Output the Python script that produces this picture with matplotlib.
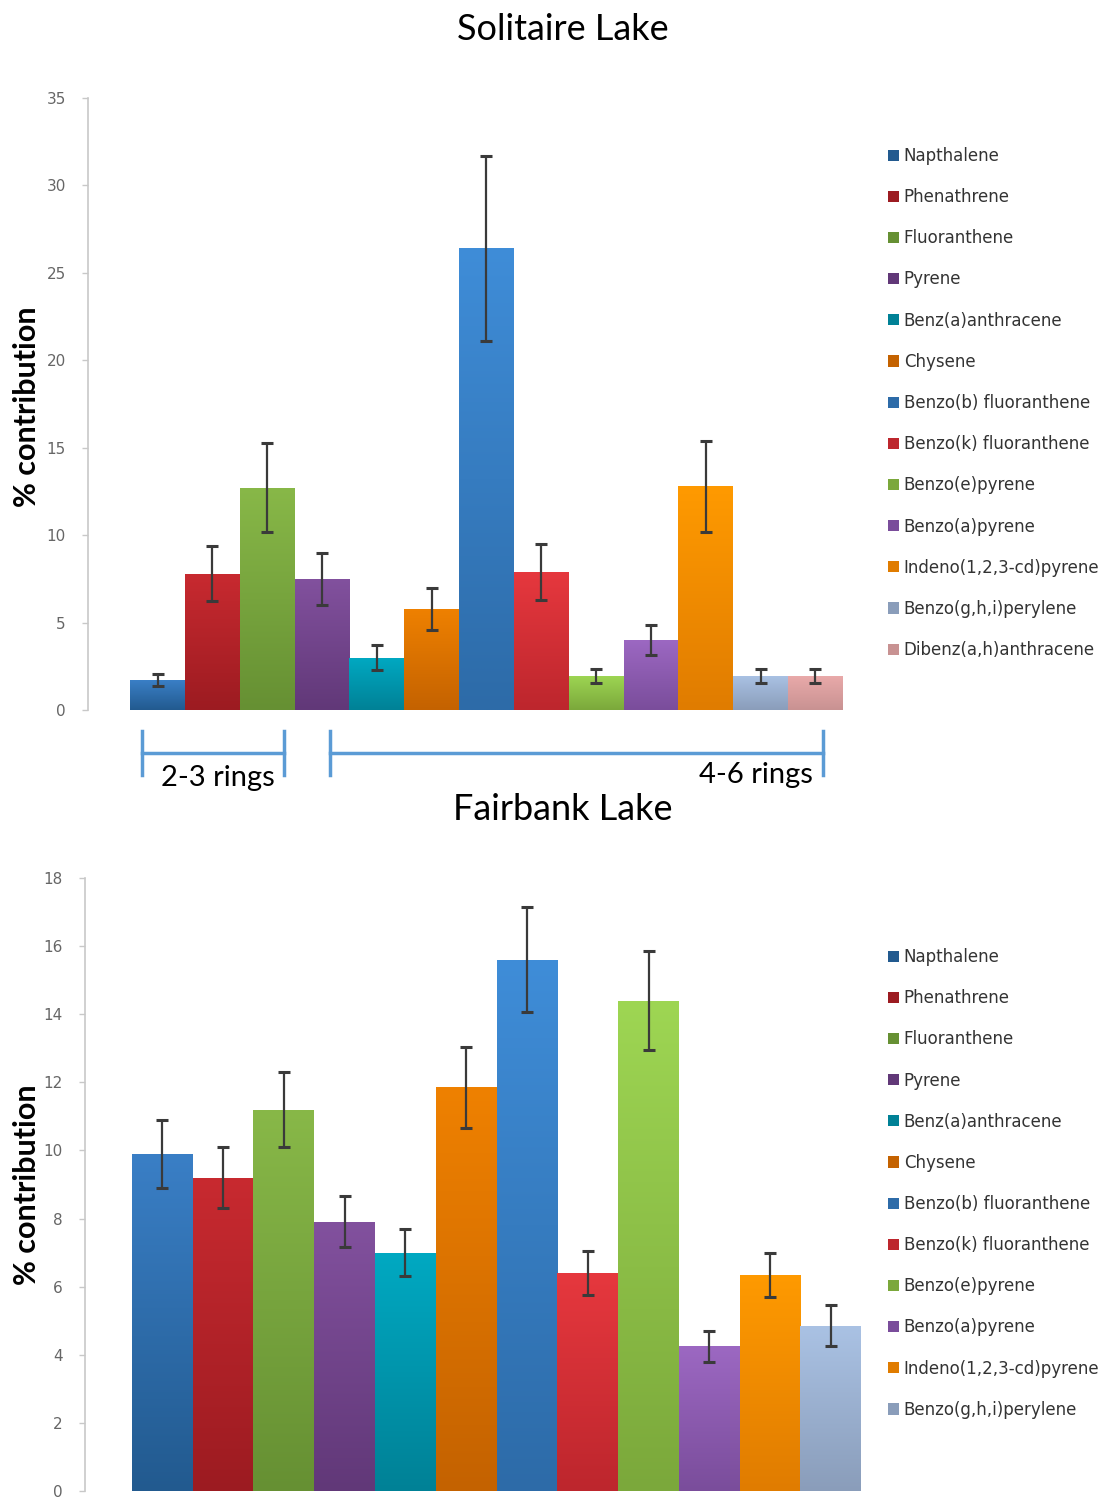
import numpy as np
import matplotlib
matplotlib.use("Agg")
import matplotlib.pyplot as plt
from matplotlib.colors import LinearSegmentedColormap
from matplotlib.lines import Line2D

# --- datos ---
compuestos = ["Napthalene", "Phenathrene", "Fluoranthene", "Pyrene",
              "Benz(a)anthracene", "Chysene", "Benzo(b) fluoranthene",
              "Benzo(k) fluoranthene", "Benzo(e)pyrene", "Benzo(a)pyrene",
              "Indeno(1,2,3-cd)pyrene", "Benzo(g,h,i)perylene",
              "Dibenz(a,h)anthracene"]

solitaire_media = [1.7, 7.8, 12.7, 7.5, 3.0, 5.8, 26.4, 7.9, 1.95, 4.0, 12.8, 1.95, 1.95]
solitaire_error = [0.35, 1.55, 2.55, 1.5, 0.7, 1.2, 5.3, 1.6, 0.4, 0.85, 2.6, 0.4, 0.4]

fairbank_media = [9.9, 9.2, 11.2, 7.9, 7.0, 11.85, 15.6, 6.4, 14.4, 4.25, 6.35, 4.85]
fairbank_error = [1.0, 0.9, 1.1, 0.75, 0.7, 1.2, 1.55, 0.65, 1.45, 0.45, 0.65, 0.6]

# colores (arriba, abajo) para el degradado de cada barra
colores = [("#3a7fc6", "#225a8f"), ("#c82a30", "#9c1b21"), ("#88b848", "#669033"),
           ("#82519e", "#613878"), ("#00a9c2", "#008196"), ("#ef8100", "#c46200"),
           ("#3f8dd8", "#2d6ba8"), ("#e6383e", "#bd262d"), ("#9ed653", "#7ba83b"),
           ("#9c68c2", "#7a4d9b"), ("#ff9a00", "#e07c00"), ("#aac2e4", "#8a9dba"),
           ("#eaaaaa", "#c89292")]

gris = "#666666"


def barras(ax, medias, errores):
    n = len(medias)
    x = np.arange(n)
    for i in range(n):
        arriba, abajo = colores[i]
        cont = ax.bar(x[i], medias[i], width=1.0, color=abajo, label=compuestos[i],
                      zorder=2, linewidth=0)
        rect = cont.patches[0]
        cmap = LinearSegmentedColormap.from_list("g%d" % i, [abajo, arriba])
        grad = np.linspace(0, 1, 256).reshape(-1, 1)
        im = ax.imshow(grad, extent=[x[i] - 0.5, x[i] + 0.5, 0, medias[i]],
                       origin="lower", aspect="auto", cmap=cmap, zorder=2.5)
        im.set_clip_path(rect)
        ax.errorbar(x[i], medias[i], yerr=errores[i], fmt="none", ecolor="#3a3a3a",
                    elinewidth=1.6, capsize=4, capthick=2.2, zorder=3)
    ax.set_xlim(-1.27, n - 0.5 + 0.77)
    for s in ["top", "right", "bottom"]:
        ax.spines[s].set_visible(False)
    ax.spines["left"].set_color("#c8c8c8")
    ax.spines["left"].set_linewidth(1.2)
    ax.set_xticks([])
    ax.tick_params(axis="y", colors="#c8c8c8", labelcolor=gris, labelsize=11,
                   length=4, width=1, pad=12)


fig = plt.figure(figsize=(11, 15.02), dpi=100)

# --- Solitaire Lake ---
ax1 = fig.add_axes([0.08, 0.5273, 0.7245, 0.4075])
barras(ax1, solitaire_media, solitaire_error)
ax1.set_ylim(0, 35)
ax1.set_yticks(np.arange(0, 36, 5))

# --- Fairbank Lake ---
ax2 = fig.add_axes([0.0773, 0.0073, 0.7482, 0.4082])
barras(ax2, fairbank_media, fairbank_error)
ax2.set_ylim(0, 18)
ax2.set_yticks(np.arange(0, 19, 2))

for ax in (ax1, ax2):
    for lbl in ax.get_yticklabels():
        lbl.set_fontfamily("DejaVu Sans")

fig.text(0.512, 1 - 30 / 1502, "Solitaire Lake", ha="center", va="center",
         fontsize=26, family="Lato")
fig.text(0.512, 1 - 810 / 1502, "Fairbank Lake", ha="center", va="center",
         fontsize=26, family="Lato")

fig.text(0.025, 1 - 407 / 1502, "% contribution", rotation=90, ha="center", va="center",
         fontsize=22, fontweight="bold", family="Lato")
fig.text(0.025, 1 - 1185 / 1502, "% contribution", rotation=90, ha="center", va="center",
         fontsize=22, fontweight="bold", family="Lato")

# leyendas
for ax, y_top in ((ax1, 1 - 147 / 1502), (ax2, 1 - 948 / 1502)):
    ax.legend(loc="upper left", bbox_to_anchor=(0.8073, y_top), bbox_transform=fig.transFigure,
              frameon=False, prop={"family": "DejaVu Sans", "size": 12},
              handlelength=0.65, handleheight=0.65, handletextpad=0.3,
              labelspacing=1.39, borderaxespad=0, borderpad=0, labelcolor="#333333")

# corchetes de anillos
azul = "#5b9bd5"
W, H = 1100, 1502


def linea(x0, y0, x1, y1):
    fig.add_artist(Line2D([x0 / W, x1 / W], [1 - y0 / H, 1 - y1 / H],
                          transform=fig.transFigure, color=azul, lw=2.5))


for xa, xb in ((142, 284), (330, 823)):
    linea(xa, 731, xa, 775)
    linea(xb, 731, xb, 775)
    linea(xa, 753, xb, 753)

fig.text(218 / W, 1 - 778 / H, "2-3 rings", ha="center", va="center",
         fontsize=21, family="Lato")
fig.text(813 / W, 1 - 775 / H, "4-6 rings", ha="right", va="center",
         fontsize=21, family="Lato")

fig.savefig("out.png", dpi=100)
